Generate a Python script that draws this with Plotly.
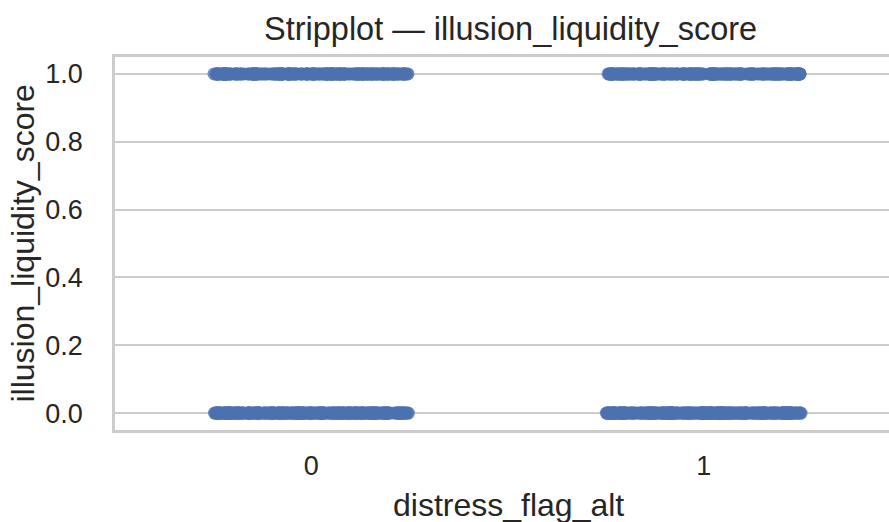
import plotly.graph_objects as go

# Group labels on the x axis and the observed score levels
categories = ["0", "1"]
score_levels = [0.0, 1.0]
# Number of observations at each score level, per group
counts_group0 = [260, 240]
counts_group1 = [270, 250]

y_ticks = [0.0, 0.2, 0.4, 0.6, 0.8, 1.0]
y_tick_labels = ["0.0", "0.2", "0.4", "0.6", "0.8", "1.0"]

# Expand counts into individual observations
xs, ys = [], []
for cat, counts in zip(categories, [counts_group0, counts_group1]):
    for level, n in zip(score_levels, counts):
        xs += [cat] * n
        ys += [level] * n

FONT = "Liberation Sans, Arial, sans-serif"
TEXT = "#262626"
GRID = "#cccccc"

fig = go.Figure()
# Strip plot: a box trace with all points shown and the box hidden
fig.add_trace(go.Box(
    x=xs, y=ys,
    boxpoints="all", jitter=0.71, pointpos=0,
    fillcolor="rgba(0,0,0,0)",
    line=dict(color="rgba(0,0,0,0)", width=0),
    marker=dict(color="#4c72b0", size=13, opacity=0.75, line=dict(width=0)),
    hoveron="points", showlegend=False,
))

cx = (508 - 115) / (889 - 115)

fig.update_layout(
    width=889, height=522,
    margin=dict(l=115, r=0, t=57, b=92),
    paper_bgcolor="white", plot_bgcolor="white",
    font=dict(family=FONT, color=TEXT, size=27),
    boxgap=0.3, boxgroupgap=0,
    xaxis=dict(
        type="category", categoryorder="array", categoryarray=categories,
        range=[-0.5, 1.472], showgrid=False, zeroline=False,
        showline=True, linecolor=GRID, linewidth=2.5, mirror=True,
        ticks="", tickfont=dict(size=27, color=TEXT), ticklabelstandoff=10,
    ),
    yaxis=dict(
        range=[-0.05, 1.05], tickvals=y_ticks, ticktext=y_tick_labels,
        showgrid=True, gridcolor=GRID, gridwidth=1.8, zeroline=False,
        showline=True, linecolor=GRID, linewidth=2.5,
        ticks="", tickfont=dict(size=27, color=TEXT), ticklabelstandoff=24,
    ),
    annotations=[
        dict(text="Stripplot \u2014 illusion_liquidity_score", xref="paper", yref="paper",
             x=(510 - 115) / (889 - 115), y=1.0, yshift=28, xanchor="center", yanchor="middle",
             showarrow=False, font=dict(size=32.5, color=TEXT, family=FONT)),
        dict(text="distress_flag_alt", xref="paper", yref="paper",
             x=cx, y=0, yshift=-75, xanchor="center", yanchor="middle",
             showarrow=False, font=dict(size=32, color=TEXT, family=FONT)),
        dict(text="illusion_liquidity_score", xref="paper", yref="paper",
             x=0, xshift=-93, y=0.5, textangle=-90, xanchor="center", yanchor="middle",
             showarrow=False, font=dict(size=32, color=TEXT, family=FONT)),
    ],
)

fig.write_html("out.html")
